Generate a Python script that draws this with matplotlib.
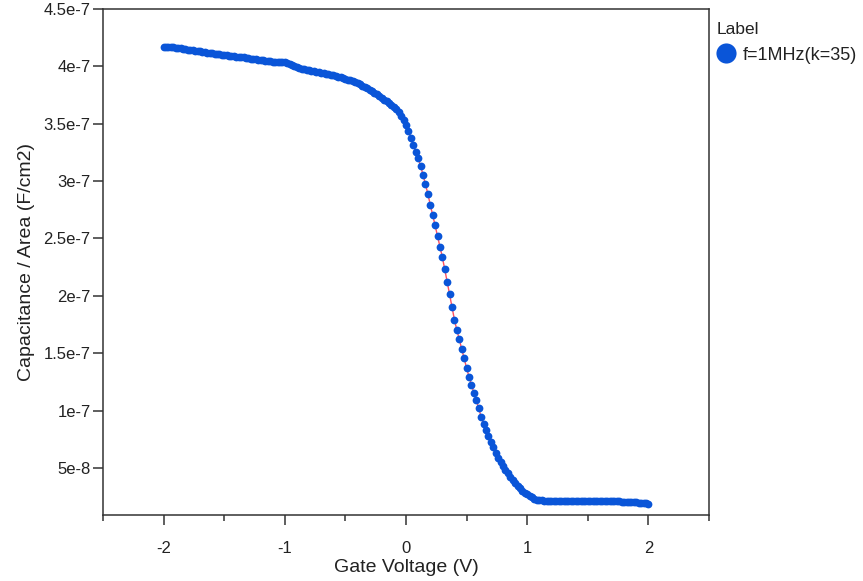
import numpy as np
import matplotlib
matplotlib.use("Agg")
import matplotlib.pyplot as plt
from matplotlib.lines import Line2D
from matplotlib.ticker import FixedLocator, MultipleLocator

plt.rcParams['font.family'] = ['Liberation Sans', 'DejaVu Sans']

# gate voltage sweep, -2 V .. 2 V in 0.02 V steps
gate_v = np.linspace(-2.0, 2.0, 201)

# capacitance per area, in units of 1e-7 F/cm2
cap = np.array([
    4.170, 4.168, 4.167, 4.166, 4.165, 4.163, 4.162, 4.158, 4.150, 4.148,   # -2.00 .. -1.82
    4.146, 4.143, 4.141, 4.138, 4.136, 4.132, 4.127, 4.122, 4.118, 4.115,   # -1.80 .. -1.62
    4.113, 4.110, 4.107, 4.104, 4.101, 4.098, 4.095, 4.092, 4.090, 4.088,   # -1.60 .. -1.42
    4.086, 4.083, 4.081, 4.078, 4.075, 4.071, 4.068, 4.064, 4.061, 4.058,   # -1.40 .. -1.22
    4.055, 4.052, 4.049, 4.046, 4.044, 4.042, 4.040, 4.039, 4.038, 4.036,   # -1.20 .. -1.02
    4.034, 4.030, 4.024, 4.012, 4.000, 3.992, 3.985, 3.979, 3.975, 3.971,   # -1.00 .. -0.82
    3.968, 3.964, 3.960, 3.955, 3.951, 3.946, 3.941, 3.936, 3.931, 3.926,   # -0.80 .. -0.62
    3.921, 3.916, 3.910, 3.904, 3.898, 3.891, 3.884, 3.877, 3.869, 3.861,   # -0.60 .. -0.42
    3.852, 3.842, 3.831, 3.820, 3.808, 3.796, 3.784, 3.771, 3.757, 3.742,   # -0.40 .. -0.22
    3.727, 3.709, 3.695, 3.681, 3.667, 3.650, 3.628, 3.604, 3.570, 3.532,   # -0.20 .. -0.02
    3.490, 3.435, 3.378, 3.318, 3.258, 3.200, 3.135, 3.055, 2.975, 2.890,   #  0.00 ..  0.18
    2.795, 2.705, 2.615, 2.520, 2.430, 2.335, 2.230, 2.120, 2.015, 1.900,   #  0.20 ..  0.38
    1.790, 1.700, 1.620, 1.535, 1.455, 1.370, 1.295, 1.225, 1.155, 1.090,   #  0.40 ..  0.58
    1.020, 0.945, 0.885, 0.830, 0.780, 0.730, 0.680, 0.630, 0.590, 0.550,   #  0.60 ..  0.78
    0.515, 0.485, 0.455, 0.425, 0.395, 0.370, 0.345, 0.322, 0.300, 0.285,   #  0.80 ..  0.98
    0.270, 0.255, 0.243, 0.232, 0.225, 0.220, 0.217, 0.216, 0.215, 0.215,   #  1.00 ..  1.18
    0.215, 0.215, 0.216, 0.215, 0.215, 0.214, 0.215, 0.215, 0.214, 0.214,   #  1.20 ..  1.38
    0.215, 0.214, 0.214, 0.214, 0.213, 0.214, 0.213, 0.213, 0.213, 0.213,   #  1.40 ..  1.58
    0.213, 0.212, 0.212, 0.213, 0.212, 0.212, 0.211, 0.211, 0.208, 0.205,   #  1.60 ..  1.78
    0.204, 0.203, 0.202, 0.201, 0.200, 0.199, 0.198, 0.196, 0.194, 0.192,   #  1.80 ..  1.98
    0.190,                                                                  #  2.00
]) * 1e-7

series_label = "f=1MHz(k=35)"
legend_title = "Label"
x_ticks = [-2, -1, 0, 1, 2]
y_ticks = [5e-8, 1e-7, 1.5e-7, 2e-7, 2.5e-7, 3e-7, 3.5e-7, 4e-7, 4.5e-7]
y_tick_labels = ["5e-8", "1e-7", "1.5e-7", "2e-7", "2.5e-7", "3e-7", "3.5e-7", "4e-7", "4.5e-7"]

blue = "#0a55d8"
axc = "#333333"
txt = "#222222"

fig = plt.figure(figsize=(8.63, 5.81), dpi=100)
ax = fig.add_axes([103 / 863, 1 - 515 / 581, 606 / 863, 506 / 581])

ax.plot(gate_v, cap, color="#ff5060", lw=1.0, zorder=2)
ax.plot(gate_v, cap, ls="none", marker="o", ms=5.6, mfc=blue, mec=blue, mew=0, zorder=3)

ax.set_xlim(-2.5, 2.5)
ax.set_ylim(0.9e-8, 4.5e-7)
ax.xaxis.set_major_locator(FixedLocator(x_ticks))
ax.xaxis.set_minor_locator(MultipleLocator(0.5))
ax.set_xticklabels([str(t) for t in x_ticks])
ax.set_yticks(y_ticks)
ax.set_yticklabels(y_tick_labels)

for s in ax.spines.values():
    s.set_color(axc)
    s.set_linewidth(1.1)
ax.tick_params(which="major", direction="out", length=7, width=1.1, color=axc,
               labelsize=12, labelcolor=txt)
ax.tick_params(axis="x", which="major", pad=12)
ax.tick_params(axis="y", which="major", pad=2)
ax.tick_params(which="minor", direction="out", length=4.5, width=1.1, color=axc)

ax.set_xlabel("Gate Voltage (V)", fontsize=14, color=txt, labelpad=2)
ax.set_ylabel("Capacitance / Area (F/cm2)", fontsize=14, color=txt, labelpad=6)

# legend outside the plot on the right: title, then one big marker
fig.text(717 / 863, 1 - 30 / 581, legend_title, fontsize=12.5, color=txt,
         ha="left", va="center")
handle = Line2D([], [], ls="none", marker="o", ms=14.5, mfc=blue, mec=blue, mew=0)
fig.legend([handle], [series_label], loc="center left",
           bbox_to_anchor=(716 / 863, 1 - 55 / 581),
           frameon=False, fontsize=13, labelcolor=txt,
           handlelength=1.15, handletextpad=0.35, borderpad=0,
           borderaxespad=0)

fig.savefig("out.png", dpi=100)
